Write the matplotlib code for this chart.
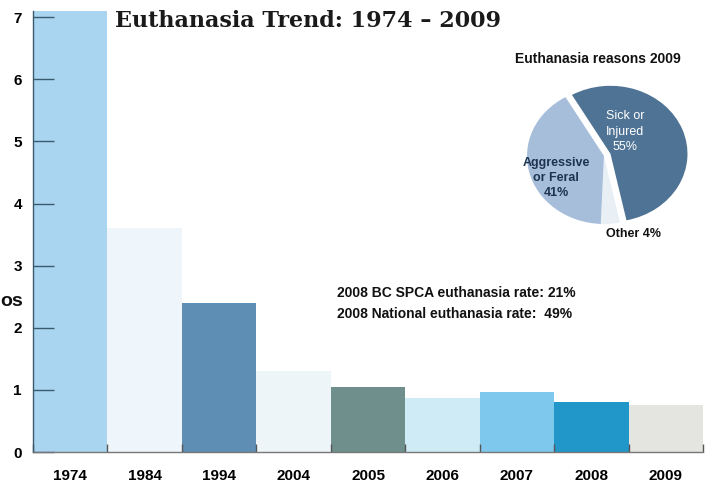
import matplotlib
matplotlib.use("Agg")
import matplotlib.pyplot as plt
import numpy as np

years = ["1974", "1984", "1994", "2004", "2005", "2006", "2007", "2008", "2009"]
values = [7.1, 3.6, 2.4, 1.3, 1.05, 0.87, 0.97, 0.81, 0.75]
bar_colors = ["#a9d5f1", "#eef6fb", "#5f8eb5", "#eef5f8", "#6e8f8b",
              "#cfebf6", "#7fc8ed", "#2196c9", "#e4e4e0"]
yticks = [0, 1, 2, 3, 4, 5, 6, 7]

pie_labels = ["Sick or\nInjured\n55%", "Other 4%", "Aggressive\nor Feral\n41%"]
pie_values = [55, 4, 41]
pie_colors = ["#4f7394", "#e9f0f5", "#a7bedb"]

title = "Euthanasia Trend: 1974 \u2013 2009"
pie_title = "Euthanasia reasons 2009"
note_lines = ["2008 BC SPCA euthanasia rate: 21%", "2008 National euthanasia rate:  49%"]

W, H = 711, 482
fig = plt.figure(figsize=(W / 100, H / 100), dpi=100)
fig.patch.set_facecolor("white")

sans = ["Liberation Sans", "DejaVu Sans"]

ax = fig.add_axes([33 / W, 1 - 452 / H, (703 - 33) / W, (452 - 11) / H])
ax.patch.set_visible(False)
x = np.arange(len(years))
ax.bar(x, values, width=1.0, color=bar_colors, edgecolor="none", align="center")
ax.set_xlim(-0.5, len(years) - 0.5)
ax.set_ylim(0, 7.1)
ax.set_yticks(yticks)
ax.set_yticklabels([str(t) for t in yticks], family=sans, fontweight="bold", fontsize=11)
ax.set_xticks(x)
ax.set_xticklabels(years, family=sans, fontweight="bold", fontsize=11)
ax.tick_params(axis="y", direction="in", length=15, width=1.0, color="#3a5a70", pad=8)
ax.tick_params(axis="x", length=0, pad=12)
ax.set_xticks(np.arange(len(years) + 1) - 0.5, minor=True)
ax.tick_params(axis="x", which="minor", direction="in", length=6, width=1, color="#555555")
for s in ["top", "right"]:
    ax.spines[s].set_visible(False)
ax.spines["left"].set_color("#3a5a70")
ax.spines["left"].set_linewidth(1.0)
ax.spines["bottom"].set_color("#777777")
ax.spines["bottom"].set_linewidth(1.0)

fig.text(115 / W, 1 - 21 / H, title, family="DejaVu Serif", fontweight="bold",
         fontsize=16, ha="left", va="center", color="#1a1a1a")

fig.text(337 / W, 1 - 293 / H, note_lines[0], family=sans, fontweight="bold",
         fontsize=10, ha="left", va="center", color="#111111")
fig.text(337 / W, 1 - 314 / H, note_lines[1], family=sans, fontweight="bold",
         fontsize=10, ha="left", va="center", color="#111111")

fig.text(0.001, 1 - 301 / H, "os", family=sans, fontweight="bold", fontsize=14,
         ha="left", va="center", color="#111111")

fig.text(598 / W, 1 - 59 / H, pie_title, family=sans, fontweight="bold",
         fontsize=10, ha="center", va="center", color="#111111")

# pie inset (slightly elliptical like the reference)
cx, cy, rx, ry = 604, 156, 77, 68
pw, ph = 2.4 * rx, 2.4 * ry
pax = fig.add_axes([(cx - pw / 2) / W, 1 - (cy + ph / 2) / H, pw / W, ph / H])
pax.set_zorder(3)
wedges, _ = pax.pie(pie_values, colors=pie_colors, startangle=120, counterclock=False,
                    explode=[0.09, 0, 0], wedgeprops=dict(edgecolor="none"))
pax.set_aspect("auto")
pax.set_xlim(-1.2, 1.2)
pax.set_ylim(-1.2, 1.2)
pax.axis("off")
pax.text(0.27, 0.36, pie_labels[0], ha="center", va="center", fontsize=9,
         family=sans, color="white", linespacing=1.35)
pax.text(-0.62, -0.32, pie_labels[2], ha="center", va="center", fontsize=9,
         family=sans, fontweight="bold", color="#1d3350", linespacing=1.35)
pax.text(0.38, -1.15, pie_labels[1], ha="center", va="center", fontsize=9,
         family=sans, fontweight="bold", color="#111111")

fig.savefig("out.png", dpi=100, facecolor="white")
